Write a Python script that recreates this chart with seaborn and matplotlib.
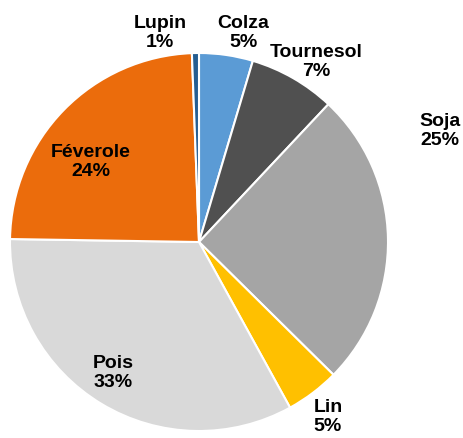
import matplotlib
matplotlib.use("Agg")
import matplotlib.pyplot as plt
import seaborn as sns

# Data (clockwise from 12 o'clock)
categories = ["Colza", "Tournesol", "Soja", "Lin", "Pois", "Féverole", "Lupin"]
values = [4.6, 7.4, 25.4, 4.6, 33.25, 24.15, 0.6]
pct_labels = ["5%", "7%", "25%", "5%", "33%", "24%", "1%"]
colors = ["#5B9BD5", "#505050", "#A5A5A5", "#FFC000", "#D9D9D9", "#EB6C0C", "#255E91"]

sns.set_style("white")
plt.rcParams['font.family'] = ['Liberation Sans', 'DejaVu Sans']

W, H = 464, 439
fig = plt.figure(figsize=(W / 100, H / 100), dpi=100)
cx, cy, r = 199, 243, 189
ax = fig.add_axes([(cx - r) / W, (H - cy - r) / H, 2 * r / W, 2 * r / H])
ax.pie(values, colors=colors, startangle=90, counterclock=False, radius=1,
       wedgeprops=dict(edgecolor="white", linewidth=1.5))
ax.set_xlim(-1, 1)
ax.set_ylim(-1, 1)
ax.set_aspect("equal")
ax.axis("off")

# label positions in pixel coords (text centres)
label_px = {
    "Colza": (243, 33),
    "Tournesol": (316, 62),
    "Soja": (440, 131),
    "Lin": (328, 417),
    "Pois": (113, 373),
    "Féverole": (91, 162),
    "Lupin": (160, 33),
}
for cat, pct in zip(categories, pct_labels):
    px, py = label_px[cat]
    x = (px - cx) / r
    y = (cy - py) / r
    ax.text(x, y, f"{cat}\n{pct}", ha="center", va="center", fontsize=14,
            fontweight="bold", color="black", linespacing=1.15, clip_on=False)

fig.savefig("out.png", dpi=100)
